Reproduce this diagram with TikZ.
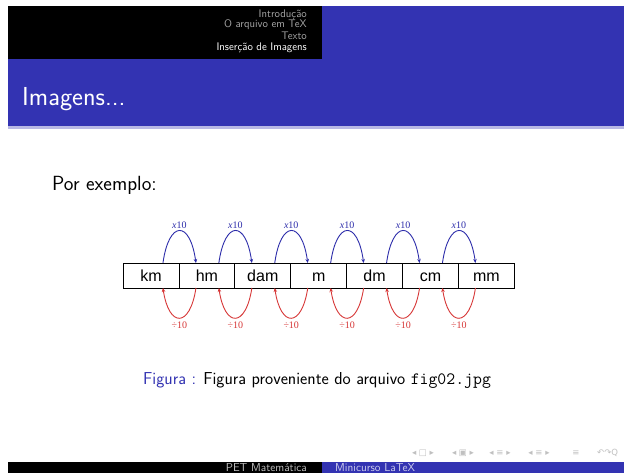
\documentclass[tikz,border=0pt]{standalone}
\usepackage{fontspec}
\newfontfamily\arialfont{Liberation Sans}
\newfontfamily\timesfont{Liberation Serif}
\newfontfamily\symbfont{DejaVu Sans}
\usepackage{tikz}
\usetikzlibrary{arrows.meta, positioning}
\definecolor{beamerblue}{RGB}{51,51,178}
\definecolor{arcblue}{RGB}{45,45,170}
\definecolor{arcred}{RGB}{215,55,55}
\definecolor{navgray}{RGB}{150,150,150}

\begin{document}
\begin{tikzpicture}[x=1pt, y=-1pt,
    unitbox/.style={
      draw,
      line width=0.9pt,
      fill=white,
      minimum width=55.9pt,
      minimum height=25pt,
      text height=11.5pt,
      text depth=0pt,
      inner sep=0pt,
      outer sep=0pt,
      font=\fontsize{16}{16}\selectfont\arialfont
    },
    uparc/.style={arcblue, line width=0.9pt, -{Stealth[length=4pt, width=3.5pt]}},
    downarc/.style={arcred, line width=0.9pt, -{Stealth[length=4pt, width=3.5pt]}},
    arclabel/.style={font=\fontsize{10}{10}\selectfont\timesfont, inner sep=1.5pt},
    headtext/.style={anchor=east, inner sep=0pt, font=\fontsize{11}{11}\sffamily},
    foottext/.style={inner sep=0pt, font=\fontsize{11.5}{11.5}\sffamily},
    navsym/.style={inner sep=0pt, text=navgray!60, font=\fontsize{8.5}{8.5}\selectfont\symbfont}
  ]
    \useasboundingbox (0,0) rectangle (624,473);
    \fill[white] (0,0) rectangle (624,473);

    \fill[black] (8,6) rectangle (322,59);
    \fill[beamerblue] (322,6) rectangle (624,59);
    \fill[beamerblue] (8,59) rectangle (624,126);
    \fill[beamerblue!35] (8,126) rectangle (624,129);
    \node[headtext, text=white!65!black] (sec1) at (307,15) {Introdução};
    \node[headtext, text=white!65!black] (sec2) at (307,25) {O arquivo em TeX};
    \node[headtext, text=white!65!black] (sec3) at (307,36) {Texto};
    \node[headtext, text=white] (sec4) at (307,48) {Inserção de Imagens};
    \node[anchor=west, text=white, inner sep=0pt, font=\fontsize{26}{26}\sffamily] (title) at (22,99) {Imagens...};

    \node[anchor=west, inner sep=0pt, font=\fontsize{20.5}{20.5}\sffamily] (intro) at (52,185) {Por exemplo:};

    \node[unitbox] (km) at (151,275.5) {km};
    \node[unitbox, right=0pt of km] (hm) {hm};
    \node[unitbox, right=0pt of hm] (dam) {dam};
    \node[unitbox, right=0pt of dam] (m) {m};
    \node[unitbox, right=0pt of m] (dm) {dm};
    \node[unitbox, right=0pt of dm] (cm) {cm};
    \node[unitbox, right=0pt of cm] (mm) {mm};

    \foreach \a/\b in {km/hm, hm/dam, dam/m, m/dm, dm/cm, cm/mm} {
      \draw[uparc] ([xshift=-16pt]\a.north east) .. controls +(6,-43) and +(-6,-43) .. ([xshift=17pt]\b.north west)
        node[arclabel, midway, above] {\textit{x}10};
      \draw[downarc] ([xshift=17pt]\b.south west) .. controls +(-6,40) and +(6,40) .. ([xshift=-16pt]\a.south east)
        node[arclabel, midway, below=2pt] {÷10};
    }

    \node[anchor=west, inner sep=0pt, font=\fontsize{17.3}{17.3}\sffamily] (caption) at (143,380)
      {{\color{beamerblue}Figura :} Figura proveniente do arquivo \texttt{fig02.jpg}};

    \node[navsym] (nav1) at (423,453) {◂ □ ▸};
    \node[navsym] (nav2) at (463,453) {◂ ▣ ▸};
    \node[navsym] (nav3) at (500,453) {◂ ≡ ▸};
    \node[navsym] (nav4) at (539,453) {◂ ≡ ▸};
    \node[navsym] (nav5) at (576,453) {≡};
    \node[navsym, anchor=west] (nav6) at (597,453) {↶↷Q};

    \fill[black] (8,462) rectangle (322,473);
    \fill[beamerblue] (322,462) rectangle (624,473);
    \node[foottext, anchor=east, text=white!75!black] (author) at (307,467.5) {PET Matemática};
    \node[foottext, anchor=west, text=white!75!beamerblue] (talk) at (335,467.5) {Minicurso LaTeX};
  \end{tikzpicture}
\end{document}
